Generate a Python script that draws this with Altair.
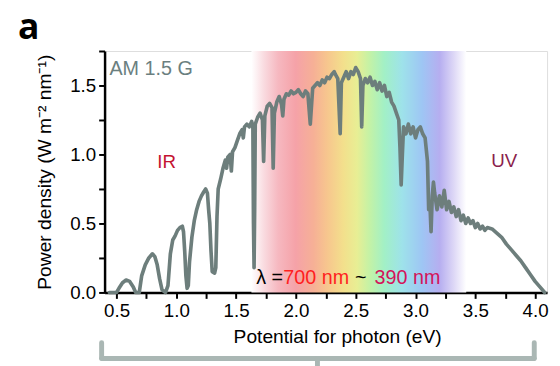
import altair as alt
import pandas as pd

# AM 1.5 G spectrum: photon energy (eV) vs power density (W m-2 nm-1)
energy_ev = [
    0.44, 0.50, 0.52, 0.55, 0.58, 0.61, 0.64, 0.66, 0.69, 0.71,
    0.74, 0.77, 0.80, 0.82, 0.84, 0.86, 0.88, 0.91, 0.93, 0.95,
    0.97, 0.99, 1.01, 1.03, 1.05, 1.06, 1.07, 1.08, 1.09, 1.10,
    1.11, 1.13, 1.15, 1.17, 1.19, 1.21, 1.23, 1.245, 1.26, 1.27,
    1.28, 1.29, 1.30, 1.32, 1.33, 1.34, 1.35, 1.37, 1.39, 1.41,
    1.42, 1.43, 1.45, 1.46, 1.47, 1.49, 1.51, 1.53, 1.55, 1.56,
    1.57, 1.59, 1.61, 1.63, 1.64, 1.645, 1.65, 1.655, 1.66, 1.68,
    1.70, 1.72, 1.73, 1.74, 1.76, 1.78, 1.80, 1.81, 1.82, 1.84,
    1.86, 1.88, 1.89, 1.90, 1.92, 1.94, 1.96, 1.98, 2.00, 2.02,
    2.04, 2.06, 2.08, 2.10, 2.12, 2.14, 2.16, 2.18, 2.20, 2.22,
    2.24, 2.26, 2.28, 2.30, 2.32, 2.33, 2.35, 2.37, 2.38, 2.40,
    2.42, 2.44, 2.46, 2.48, 2.50, 2.52, 2.54, 2.55, 2.56, 2.58,
    2.60, 2.62, 2.64, 2.66, 2.68, 2.70, 2.72, 2.74, 2.76, 2.78,
    2.80, 2.82, 2.84, 2.86, 2.87, 2.88, 2.89, 2.90, 2.92, 2.94,
    2.96, 2.98, 3.00, 3.02, 3.04, 3.06, 3.08, 3.10, 3.11, 3.12,
    3.13, 3.14, 3.15, 3.16, 3.18, 3.20, 3.22, 3.24, 3.26, 3.28,
    3.30, 3.32, 3.34, 3.36, 3.38, 3.40, 3.42, 3.44, 3.46, 3.48,
    3.50, 3.52, 3.54, 3.56, 3.58, 3.60, 3.64, 3.68, 3.72, 3.76,
    3.80, 3.84, 3.88, 3.92, 3.96, 4.00, 4.04, 4.08,
]
power_density = [
    0.00, 0.00, 0.03, 0.07, 0.09, 0.08, 0.04, 0.00, 0.00, 0.12,
    0.20, 0.25, 0.28, 0.26, 0.20, 0.10, 0.02, 0.00, 0.05, 0.28,
    0.38, 0.41, 0.45, 0.47, 0.48, 0.44, 0.30, 0.12, 0.03, 0.05,
    0.22, 0.40, 0.52, 0.60, 0.66, 0.70, 0.73, 0.75, 0.72, 0.60,
    0.50, 0.30, 0.15, 0.14, 0.18, 0.55, 0.75, 0.82, 0.90, 0.96,
    0.90, 0.98, 1.00, 0.88, 1.02, 1.05, 1.10, 1.15, 1.18, 1.12,
    1.20, 1.22, 1.20, 1.24, 1.20, 0.50, 0.18, 0.60, 1.22, 1.27,
    1.30, 1.25, 0.95, 1.28, 1.35, 1.37, 1.34, 0.90, 1.30, 1.38,
    1.42, 1.36, 1.28, 1.40, 1.44, 1.43, 1.46, 1.44, 1.45, 1.47,
    1.44, 1.42, 1.46, 1.44, 1.22, 1.48, 1.50, 1.52, 1.50, 1.54,
    1.52, 1.56, 1.55, 1.58, 1.60, 1.58, 1.55, 1.15, 1.52, 1.56,
    1.60, 1.55, 1.60, 1.58, 1.63, 1.60, 1.55, 1.20, 1.50, 1.55,
    1.52, 1.56, 1.50, 1.53, 1.47, 1.52, 1.46, 1.50, 1.42, 1.45,
    1.38, 1.35, 1.30, 1.25, 1.05, 0.78, 1.00, 1.20, 1.15, 1.22,
    1.15, 1.20, 1.12, 1.18, 1.20, 1.15, 1.12, 0.95, 0.60, 0.65,
    0.44, 0.70, 0.80, 0.72, 0.60, 0.70, 0.62, 0.74, 0.60, 0.66,
    0.58, 0.62, 0.55, 0.60, 0.52, 0.56, 0.50, 0.54, 0.50, 0.52,
    0.47, 0.50, 0.46, 0.48, 0.45, 0.47, 0.46, 0.43, 0.40, 0.35,
    0.31, 0.27, 0.23, 0.18, 0.13, 0.08, 0.04, 0.00,
]
assert len(energy_ev) == len(power_density)

# visible band (eV) shown as the rainbow background
visible_band_ev = [1.628, 3.424]
rainbow_offsets = [0.0, 0.06, 0.124, 0.206, 0.289, 0.353, 0.427, 0.491,
                   0.55, 0.619, 0.702, 0.794, 0.876, 0.94, 1.0]
rainbow_colors = ["#ffffff", "#f9dadf", "#f6b8c0", "#f5a2a8", "#f6b096",
                  "#f7c68e", "#f3df8c", "#e8ee94", "#c4f2a6", "#a2f0c6",
                  "#9ee2ea", "#9ec6f4", "#b6aef0", "#dcd6f6", "#ffffff"]

x_tick_values = [0.5, 0.75, 1.0, 1.25, 1.5, 1.75, 2.0, 2.25, 2.5, 2.75,
                 3.0, 3.25, 3.5, 3.75, 4.0]
y_tick_values = [0.0, 0.25, 0.5, 0.75, 1.0, 1.25, 1.5, 1.75]

FONT = "Liberation Sans"
W, H = 449, 245

xscale = alt.Scale(domain=[0.4, 4.1], nice=False, zero=False)
yscale = alt.Scale(domain=[0.0, 1.75], nice=False, zero=False)

common_axis = dict(
    grid=False, domainColor="black", domainWidth=2.5, tickColor="black",
    tickWidth=2, tickSize=6, labelFont=FONT, labelFontSize=19,
    labelColor="black", labelOverlap=False, labelFlush=False,
    titleFont=FONT, titleFontSize=19.5, titleFontWeight="normal",
    titleColor="black",
)
xaxis = alt.Axis(
    values=x_tick_values,
    labelExpr="(round(datum.value*100) % 50 == 0) ? format(datum.value, '.1f') : ''",
    labelPadding=3, title="Potential for photon (eV)",
    titleX=236, titleY=51, titleBaseline="alphabetic", titleAlign="center",
    **common_axis,
)
yaxis = alt.Axis(
    values=y_tick_values,
    labelExpr="(round(datum.value*100) % 50 == 0) ? format(datum.value, '.1f') : ''",
    labelPadding=3, title="Power density (W m\u207b\u00b2 nm\u207b\u00b9)",
    titleX=-55, titleY=H / 2, titleAngle=270, titleBaseline="alphabetic",
    titleAlign="center",
    **common_axis,
)

spec_df = pd.DataFrame({"eV": energy_ev, "P": power_density})
band_df = pd.DataFrame({"start": [visible_band_ev[0]], "end": [visible_band_ev[1]],
                        "lo": [0.0], "hi": [1.75]})

gradient = alt.LinearGradient(
    gradient="linear",
    stops=[alt.GradientStop(offset=o, color=c) for o, c in zip(rainbow_offsets, rainbow_colors)],
    x1=0, x2=1, y1=0, y2=0,
)

rainbow = alt.Chart(band_df).mark_rect(color=gradient).encode(
    x=alt.X("start:Q", scale=xscale, axis=xaxis),
    x2="end:Q",
    y=alt.Y("lo:Q", scale=yscale, axis=yaxis),
    y2="hi:Q",
)

line = alt.Chart(spec_df).mark_line(
    color="#6d7e7c", strokeWidth=3.7, strokeJoin="round", strokeCap="round"
).encode(
    x=alt.X("eV:Q", scale=xscale, axis=xaxis),
    y=alt.Y("P:Q", scale=yscale, axis=yaxis),
)


def label(text, x, y, color, size, align="left", weight="normal", font=FONT):
    d = pd.DataFrame({"x": [x], "y": [y], "t": [text]})
    return alt.Chart(d).mark_text(
        font=font, fontSize=size, color=color, align=align,
        baseline="alphabetic", fontWeight=weight,
    ).encode(
        x=alt.X("x:Q", scale=xscale, axis=xaxis),
        y=alt.Y("y:Q", scale=yscale, axis=yaxis),
        text="t:N",
    )


texts = [
    label("AM 1.5 G", 0.441, 1.579, "#6b7f7f", 20),
    label("IR", 0.919, 0.90, "#c41230", 19, align="center"),
    label("UV", 3.742, 0.907, "#8b1f4d", 19, align="center"),
    label("\u03bb =", 1.668, 0.064, "black", 20),
    label("700 nm", 1.895, 0.064, "#ff1f1f", 20),
    label("~", 2.543, 0.064, "black", 20, align="center"),
    label("390 nm", 2.658, 0.064, "#d4145a", 20),
    label("a", -0.325, 1.836, "black", 36, weight="bold", font="Open Sans"),
]

BR = "#aab7b4"
bracket = [
    alt.Chart(band_df).mark_rule(color=BR, strokeWidth=5, strokeCap="round").encode(
        x=alt.value(-3), x2=alt.value(436), y=alt.value(312)),
    alt.Chart(band_df).mark_rule(color=BR, strokeWidth=5, strokeCap="round").encode(
        x=alt.value(-3), y=alt.value(296), y2=alt.value(312)),
    alt.Chart(band_df).mark_rule(color=BR, strokeWidth=5, strokeCap="round").encode(
        x=alt.value(436), y=alt.value(296), y2=alt.value(312)),
    alt.Chart(band_df).mark_rule(color=BR, strokeWidth=5, strokeCap="round").encode(
        x=alt.value(216), y=alt.value(312), y2=alt.value(322)),
]

chart = alt.layer(rainbow, line, *texts, *bracket).properties(
    width=W, height=H,
    autosize=alt.AutoSizeParams(type="none"),
    padding={"left": 98, "top": 41, "right": 5, "bottom": 72},
).configure_view(stroke="black", strokeWidth=2.5).configure(background="white")

chart.save("out.html", embed_options={"renderer": "svg", "actions": False})
